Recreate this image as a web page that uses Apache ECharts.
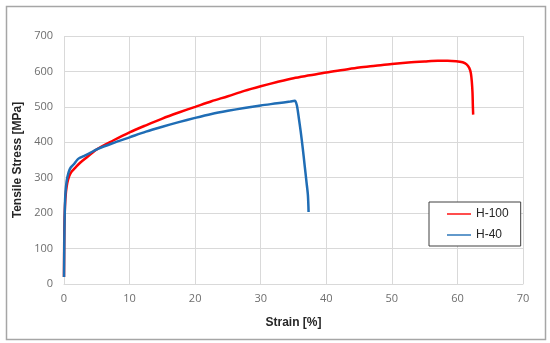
<!DOCTYPE html>
<html>
<head>
<meta charset="utf-8">
<script src="https://cdn.jsdelivr.net/npm/echarts@6/dist/echarts.min.js"></script>
<style>html,body{margin:0;padding:0;background:#fff;}#c{width:550px;height:343px;}</style>
</head>
<body>
<div id="c"></div>
<script>
var xTicks = [0, 10, 20, 30, 40, 50, 60, 70];
var yTicks = [0, 100, 200, 300, 400, 500, 600, 700];
var seriesNames = ['H-100', 'H-40'];
var seriesColors = ['#ff0000', '#1f6db5'];
var h100Strain = [0, 0.05, 0.15, 0.3, 0.5, 0.8, 1.2, 1.8, 2.5, 3.5, 5, 7.5, 10, 12.5, 15, 17.5, 20, 22.5, 25, 27.5, 30, 32.5, 35, 37.5, 40, 42.5, 45, 47.5, 50, 52.5, 55, 57, 58.5, 59.8, 60.8, 61.4, 61.8, 62.05, 62.2, 62.3, 62.35, 62.4];
var h100Stress = [20, 150, 220, 260, 285, 305, 318, 330, 343, 358, 380, 405, 428, 448, 467, 484, 500, 516, 530, 545, 558, 570, 581, 589, 597, 604, 611, 616, 621, 625, 628, 630, 630, 629, 626, 620, 610, 595, 570, 540, 505, 478];
var h40Strain = [0, 0.05, 0.1, 0.2, 0.4, 0.7, 1.0, 1.5, 2.0, 2.3, 3, 4, 5, 7.5, 10, 12.5, 15, 17.5, 20, 22.5, 25, 27.5, 30, 32.5, 34.5, 35.2, 35.5, 35.8, 36.1, 36.4, 36.7, 37.0, 37.2, 37.3];
var h40Stress = [20, 120, 190, 250, 290, 315, 328, 338, 350, 355, 361, 370, 380, 398, 414, 430, 444, 457, 469, 480, 489, 497, 504, 510, 515, 517, 505, 470, 430, 385, 335, 285, 250, 203];

function pairs(xs, ys) { return xs.map(function (x, i) { return [x, ys[i]]; }); }

var chart = echarts.init(document.getElementById('c'));
var font = 'Open Sans';
var titleFont = 'Liberation Sans';
chart.setOption({
  animation: false,
  backgroundColor: '#fff',
  textStyle: { fontFamily: font },
  graphic: [{
    type: 'rect', left: 4, top: 4, silent: true,
    shape: { x: 0, y: 0, width: 539, height: 333 },
    style: { fill: 'none', stroke: '#a6a6a6', lineWidth: 1.5 }
  }],
  grid: { left: 64, top: 36, right: 27, bottom: 59 },
  legend: {
    orient: 'vertical',
    left: 429, top: 202,
    padding: [6, 12, 5, 18],
    itemGap: 9,
    itemWidth: 24, itemHeight: 10,
    borderColor: '#404040', borderWidth: 1,
    backgroundColor: '#fff',
    textStyle: { fontFamily: 'Liberation Sans', fontSize: 12, color: '#262626' },
    data: seriesNames.map(function (n, i) {
      return { name: n, icon: 'path://M0,4.3 L24,4.3 L24,5.7 L0,5.7 Z', itemStyle: { color: seriesColors[i] } };
    })
  },
  xAxis: {
    type: 'value', min: xTicks[0], max: xTicks[xTicks.length - 1], interval: 10,
    name: 'Strain [%]', nameLocation: 'middle', nameGap: 33,
    nameTextStyle: { fontFamily: titleFont, fontSize: 12, fontWeight: 'bold', color: '#262626' },
    axisLine: { show: true, lineStyle: { color: '#d9d9d9', width: 1 } },
    axisTick: { show: false },
    axisLabel: { color: '#6e6e6e', fontSize: 11, margin: 9 },
    splitLine: { show: true, lineStyle: { color: '#d9d9d9', width: 1 } }
  },
  yAxis: {
    type: 'value', min: yTicks[0], max: yTicks[yTicks.length - 1], interval: 100,
    name: 'Tensile Stress [MPa]', nameLocation: 'middle', nameGap: 37,
    nameTextStyle: { fontFamily: titleFont, fontSize: 12, fontWeight: 'bold', color: '#262626' },
    axisLine: { show: false },
    axisTick: { show: false },
    axisLabel: { color: '#6e6e6e', fontSize: 11, margin: 11 },
    splitLine: { show: true, lineStyle: { color: '#d9d9d9', width: 1 } }
  },
  series: [
    {
      name: seriesNames[0], type: 'line', data: pairs(h100Strain, h100Stress),
      showSymbol: false, smooth: 0.3, color: seriesColors[0],
      lineStyle: { color: seriesColors[0], width: 2.5 }
    },
    {
      name: seriesNames[1], type: 'line', data: pairs(h40Strain, h40Stress),
      showSymbol: false, smooth: 0.3, color: seriesColors[1],
      lineStyle: { color: seriesColors[1], width: 2.5 }
    }
  ]
});
</script>
</body>
</html>
